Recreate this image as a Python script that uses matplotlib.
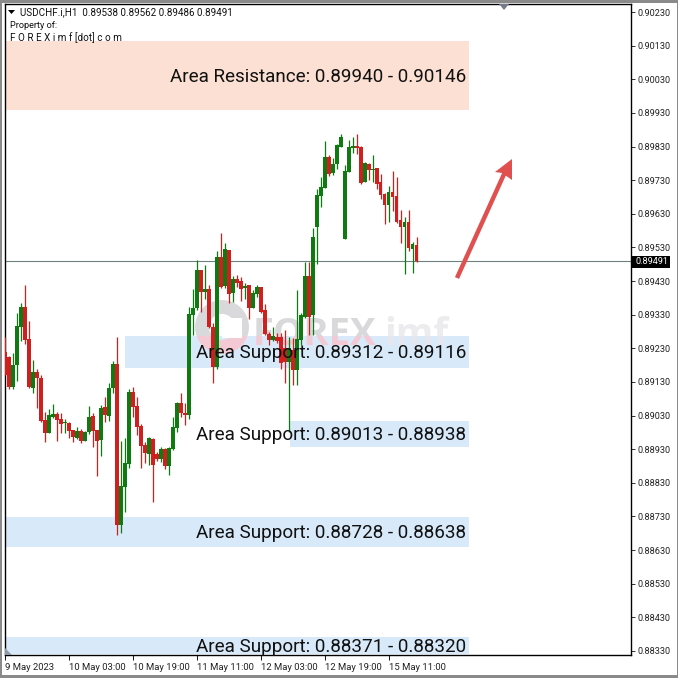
import matplotlib
matplotlib.use('Agg')
import matplotlib.pyplot as plt
import numpy as np
from matplotlib.patches import Polygon, Rectangle, Circle
from matplotlib.transforms import Affine2D

# candle prices, in 1e-5 units
opens = [89220,89205,89116,89180,89294,89352,89257,89111,89159,89141,
         89017,88977,89027,89035,89020,89007,89009,88987,88962,88985,
         88955,88981,89029,88987,88957,89055,89029,89111,89183,88705,
         88819,88886,89101,89059,88999,88943,88916,88959,88916,88900,
         88930,88880,88932,88993,89066,89037,89032,89329,89349,89463,
         89397,89406,89294,89175,89502,89415,89522,89395,89435,89430,
         89408,89417,89351,89391,89413,89344,89272,89255,89265,89263,
         89230,89190,89225,89166,89255,89322,89445,89329,89590,89683,
         89706,89800,89750,89778,89828,89554,89755,89827,89832,89830,
         89726,89778,89759,89765,89726,89689,89656,89694,89683,89612,
         89592,89606,89526,89538]
closes = [89151,89116,89180,89296,89354,89255,89116,89159,89141,89014,
          88977,89032,89035,89017,89005,89012,88985,88965,88985,88955,
          88981,89027,88985,88955,89052,89032,89113,89183,88705,88821,
          88890,89101,89057,88997,88940,88918,88962,88883,88902,88931,
          88880,88933,88995,89066,89037,89032,89332,89349,89463,89398,
          89405,89292,89173,89502,89413,89525,89391,89435,89423,89406,
          89415,89351,89395,89413,89339,89272,89255,89267,89253,89185,
          89190,89230,89166,89257,89329,89445,89324,89562,89686,89709,
          89800,89748,89778,89835,89859,89758,89830,89832,89827,89723,
          89780,89760,89762,89719,89686,89656,89694,89679,89607,89592,
          89606,89527,89540,89491]
highs = [89263,89207,89215,89336,89364,89418,89312,89195,89170,89151,
         89042,89049,89064,89042,89037,89020,89012,88987,88995,88989,
         88983,89058,89039,88987,89061,89086,89126,89193,89265,88955,
         88962,89108,89114,89086,89005,88952,88967,88962,88923,88938,
         88933,88938,89027,89071,89096,89068,89352,89405,89493,89463,
         89478,89418,89304,89520,89574,89542,89522,89445,89448,89443,
         89423,89418,89403,89418,89413,89362,89280,89294,89275,89277,
         89284,89265,89260,89403,89334,89488,89488,89587,89703,89740,
         89847,89805,89795,89838,89867,89775,89849,89859,89867,89832,
         89785,89782,89805,89765,89748,89693,89713,89758,89740,89641,
         89621,89641,89547,89562]
lows = [89151,89108,89108,89134,89253,89243,89111,89096,89052,89012,
        88952,88977,89022,88955,88977,88977,88962,88952,88959,88949,
        88955,88975,88936,88850,88910,89012,89015,89098,88675,88680,
        88744,88873,89027,88972,88873,88888,88883,88774,88896,88893,
        88870,88853,88928,88982,89027,89002,89019,89270,89344,89339,
        89376,89289,89126,89170,89408,89408,89364,89369,89413,89372,
        89376,89316,89349,89384,89334,89270,89240,89253,89247,89170,
        89126,88982,89121,89121,89240,89319,89270,89270,89481,89649,
        89706,89742,89745,89762,89828,89554,89755,89810,89808,89719,
        89726,89730,89726,89703,89673,89600,89606,89639,89602,89542,
        89451,89520,89455,89486]

# zones: label, low price, high price, first candle, text
zone_labels = ['Area Resistance: 0.89940 - 0.90146', 'Area Support: 0.89312 - 0.89116',
               'Area Support: 0.89013 - 0.88938', 'Area Support: 0.88728 - 0.88638',
               'Area Support: 0.88371 - 0.88320']
zone_low = [0.89939, 0.89171, 0.88937, 0.88639, 0.88320]
zone_high = [0.90144, 0.89267, 0.89014, 0.88728, 0.88371]
zone_start = [-0.125, 30, 71.25, -0.125, -0.125]
zone_colors = ['#fce0d3', '#d8e9f9', '#d8e9f9', '#d8e9f9', '#d8e9f9']

price_ticks = [0.90230, 0.90130, 0.90030, 0.89930, 0.89830, 0.89730, 0.89630, 0.89530, 0.89430, 0.89330,
               0.89230, 0.89130, 0.89030, 0.88930, 0.88830, 0.88730, 0.88630, 0.88530, 0.88430, 0.88330]
time_ticks = [0, 16, 32, 48, 64, 80, 96]
time_labels = ['9 May 2023', '10 May 03:00', '10 May 19:00', '11 May 11:00',
               '12 May 03:00', '12 May 19:00', '15 May 11:00']
last_price = 0.89491

W = 678
GREEN = '#0f7a12'
RED = '#cf1f1f'
FONT = 'Roboto'

fig = plt.figure(figsize=(W / 100, W / 100), dpi=100)
ax = fig.add_axes([4.5 / W, 1 - 655 / W, 626 / W, 651 / W])
# overlay coordinates in image pixels, y going down
px = Affine2D().scale(1 / W, -1 / W).translate(0, 1) + fig.transFigure

ax.set_xlim(-0.125, 156.4)
ax.set_ylim(0.88318, 0.90254)

o = np.array(opens) / 1e5
c = np.array(closes) / 1e5
h = np.array(highs) / 1e5
l = np.array(lows) / 1e5
x = np.arange(len(o))
cols = [GREEN if b >= a else RED for a, b in zip(o, c)]

for lab, lo, hi, st, col in zip(zone_labels, zone_low, zone_high, zone_start, zone_colors):
    ax.add_patch(Rectangle((st, lo), 116 - st, hi - lo, fc=col, ec='none', zorder=1))

# watermark, grey on top and pink where it crosses the band
wm_top = Rectangle((0, 0), W, 336, transform=px)
wm_bot = Rectangle((0, 336), W, 60, transform=px)
for clip, col1, col2 in [(wm_top, '#d9d9dc', '#ececee'), (wm_bot, '#f3c9d3', '#e6e6ee')]:
    ring = Circle((222, 327), 20, transform=px, fc='none', ec=col1, lw=10, zorder=2)
    ax.add_patch(ring)
    ring.set_clip_path(clip)
    t1 = ax.text(253, 345, 'FOREX', transform=px, fontsize=27.5, fontweight='bold', family='Open Sans',
                 color=col1, va='baseline', zorder=2, clip_on=True)
    t2 = ax.text(384, 345, 'imf', transform=px, fontsize=27.5, fontweight='bold', family='Open Sans',
                 color=col2, va='baseline', zorder=2, clip_on=True)
    t1.set_clip_path(clip)
    t2.set_clip_path(clip)
ax.add_patch(Rectangle((222, 318), 20, 20, transform=px, fc='white', ec='none', zorder=2))

ax.axhline(last_price, color='#6f8080', lw=0.8, zorder=2.5)

ax.vlines(x, l, h, colors=cols, lw=0.9, zorder=3)
ax.bar(x, np.abs(c - o), bottom=np.minimum(o, c), width=0.78, color=cols, lw=0, zorder=3.1)

# zone captions sit over the candles
caption_y = [76.5, 352.5, 435.5, 533.5, 647.5]
for lab, yy in zip(zone_labels, caption_y):
    ax.text(466, yy, lab, transform=px, fontsize=13.6, family=FONT, color='#111111',
            ha='right', va='center', zorder=5)

# up arrow
ax.plot([457, 505], [278, 172], transform=px, color='#e0504f', lw=3.2, solid_capstyle='butt', zorder=6)
ax.add_patch(Polygon([(512, 159), (495, 172), (502, 173), (512, 180)], closed=True, transform=px,
                     fc='#e0504f', ec='none', zorder=6))

# chart shift markers
ax.add_patch(Polygon([(499, 4), (509, 4), (504, 10)], transform=px, fc='#777a88', ec='none', zorder=6))
ax.add_patch(Polygon([(5, 648), (5, 655), (12, 655)], transform=px, fc='#8f9aa8', ec='none', zorder=6))

ax.yaxis.tick_right()
ax.set_yticks(price_ticks)
ax.set_yticklabels(['%.5f' % p for p in price_ticks], fontsize=6.6, family=FONT, color='#222222')
ax.set_xticks(time_ticks)
ax.set_xticklabels(time_labels, fontsize=6.8, family=FONT, color='#222222', ha='left')
ax.tick_params(axis='y', length=3, width=0.7, pad=2, color='#333333')
ax.tick_params(axis='x', length=3.5, width=0.7, pad=2, color='#111111')
for s in ax.spines.values():
    s.set_color('black')
    s.set_linewidth(1.0)

# legend-like header
ax.add_patch(Polygon([(8, 10), (15, 10), (11.5, 14)], transform=px, fc='black', ec='none', zorder=7))
ax.text(20, 12.5, 'USDCHF.i,H1  0.89538 0.89562 0.89486 0.89491', transform=px, fontsize=7.1,
        family=FONT, color='#111111', va='center', zorder=7)
ax.text(10, 25.5, 'Property of:', transform=px, fontsize=6.6, family=FONT, color='#111111', va='center', zorder=7)
ax.text(10, 37.5, 'F O R E X i m f [dot] c o m', transform=px, fontsize=7.1, family=FONT, color='#111111',
        va='center', zorder=7)

# current price flag
fig.add_artist(Rectangle((632, 256), 38, 11.5, transform=px, fc='black', ec='none', zorder=8))
fig.text(636 / W, 1 - 262 / W, '%.5f' % last_price, fontsize=6.6, family=FONT, color='white', va='center', zorder=9)

# window frame around the screenshot
for rect in [(0, 0, W, 2.5), (0, 675, W, 3), (0, 0, 1.5, W), (676.5, 0, 1.5, W)]:
    fig.add_artist(Rectangle(rect[:2], rect[2], rect[3], transform=px, fc='#8a8a8a', ec='none', zorder=8))

fig.savefig('out.png', dpi=100)
